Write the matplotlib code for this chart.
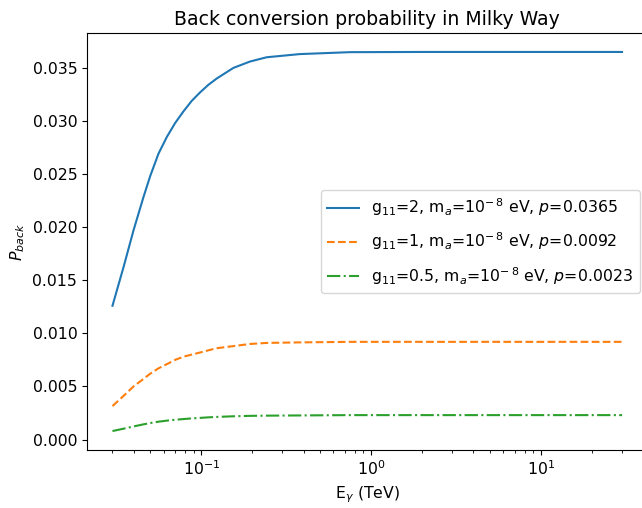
import numpy as np
import matplotlib
matplotlib.use("Agg")
import matplotlib.pyplot as plt

plt.rcParams['font.size'] = 11.3

# photon energy (TeV) and back-conversion probability
energy = [0.03, 0.0348, 0.0399, 0.0456, 0.050, 0.0559, 0.0627, 0.0701, 0.0785, 0.0879, 0.0985,
          0.110, 0.1233, 0.1546, 0.1937, 0.2426, 0.381, 0.75, 2, 5, 30]
p_g2 = [0.0126, 0.0162, 0.0197, 0.0228, 0.0248, 0.0269, 0.0285, 0.0298, 0.0309, 0.0319, 0.0327,
        0.0334, 0.0340, 0.0350, 0.0356, 0.0360, 0.0363, 0.03648, 0.0365, 0.0365, 0.0365]
p_g1 = [0.00315, 0.0041, 0.0050, 0.0057, 0.0062, 0.0067, 0.0071, 0.0075, 0.0078, 0.0080, 0.0082,
        0.0084, 0.0086, 0.0088, 0.0090, 0.0091, 0.00915, 0.0092, 0.0092, 0.0092, 0.0092]
p_g05 = [0.0008, 0.00102, 0.00123, 0.00143, 0.00155, 0.00168, 0.00178, 0.00186, 0.00193, 0.00199,
         0.00204, 0.00209, 0.00213, 0.00219, 0.00223, 0.00225, 0.00227, 0.0023, 0.0023, 0.0023, 0.0023]

labels = [r"g$_{11}$=2, m$_a$=10$^{-\,8}$ eV, $p$=0.0365",
          r"g$_{11}$=1, m$_a$=10$^{-\,8}$ eV, $p$=0.0092",
          r"g$_{11}$=0.5, m$_a$=10$^{-\,8}$ eV, $p$=0.0023"]

fig = plt.figure(figsize=(6.42, 5.08), dpi=100)
ax = fig.add_axes([87 / 642, 58 / 508, 560.5 / 642, 417 / 508])

ax.plot(energy, p_g2, '-', label=labels[0])
ax.plot(energy, p_g1, '--', label=labels[1])
ax.plot(energy, p_g05, '-.', label=labels[2])

ax.set_xscale('log')
ax.set_title('Back conversion probability in Milky Way')
ax.set_xlabel(r'E$_\gamma$ (TeV)')
ax.set_ylabel(r'$P_{back}$')
ax.legend(loc='center right', labelspacing=0.8)

fig.savefig('out.png', dpi=100)
